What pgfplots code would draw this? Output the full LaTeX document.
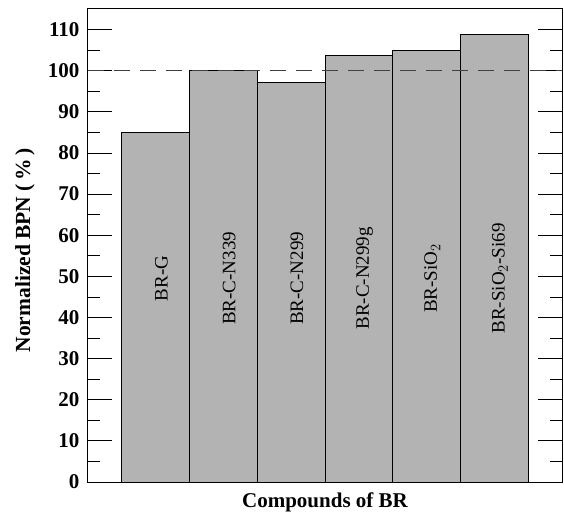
\documentclass[border=0pt]{standalone}
\usepackage{fontspec}
\setmainfont{Liberation Serif}
\usepackage{pgfplots}
\pgfplotsset{compat=1.18}

\definecolor{barfill}{RGB}{179,179,179}

\begin{document}
\begin{tikzpicture}
\begin{axis}[
  scale only axis,
  width=474pt, height=473pt,
  xmin=-1, xmax=6,
  ymin=0, ymax=115,
  xtick=\empty,
  ytick={0,10,...,110},
  minor ytick={5,15,...,105},
  tick pos=both,
  tick align=inside,
  major tick length=24pt,
  minor tick length=12pt,
  every tick/.style={black, line width=0.8pt},
  axis line style={line width=1pt},
  /pgf/number format/assume math mode=true,
  yticklabel style={font=\fontsize{21}{21}\selectfont\bfseries, xshift=-5pt},
  ylabel={Normalized BPN (\,\%\,)},
  ylabel style={at={(axis description cs:-0.133,0.49)}, anchor=center,
                font=\fontsize{21.5}{21.5}\selectfont\bfseries},
  xlabel={Compounds of BR},
  xlabel style={at={(axis description cs:0.5,-0.044)}, anchor=center,
                font=\fontsize{21}{21}\selectfont\bfseries},
  clip=false,
]
% normalized BPN of each compound
\addplot[ybar, bar width=1, bar shift=0pt, fill=barfill, draw=black, line width=0.8pt]
  coordinates {(0,85) (1,100) (2,97.2) (3,103.8) (4,104.9) (5,108.8)};
% reference level
\addplot[dash pattern=on 16pt off 10pt, black!75, line width=1pt]
  coordinates {(-1,100) (6,100)};
% compound names inside the bars
\begin{scope}[every node/.style={rotate=90, anchor=center, font=\fontsize{19}{19}\selectfont}]
  \node at (axis cs:0.085,49.5) {BR-G};
  \node at (axis cs:1.085,49.5) {BR-C-N339};
  \node at (axis cs:2.085,49.5) {BR-C-N299};
  \node at (axis cs:3.085,49.5) {BR-C-N299g};
  \node at (axis cs:4.085,49.5) {BR-SiO$_2$};
  \node at (axis cs:5.085,49.5) {BR-SiO$_2$-Si69};
\end{scope}
\coordinate (bl) at (rel axis cs:0,0);
\coordinate (tr) at (rel axis cs:1,1);
\end{axis}
\path ([xshift=-88pt,yshift=-38pt]bl) rectangle ([xshift=2pt,yshift=9pt]tr);
\end{tikzpicture}
\end{document}
